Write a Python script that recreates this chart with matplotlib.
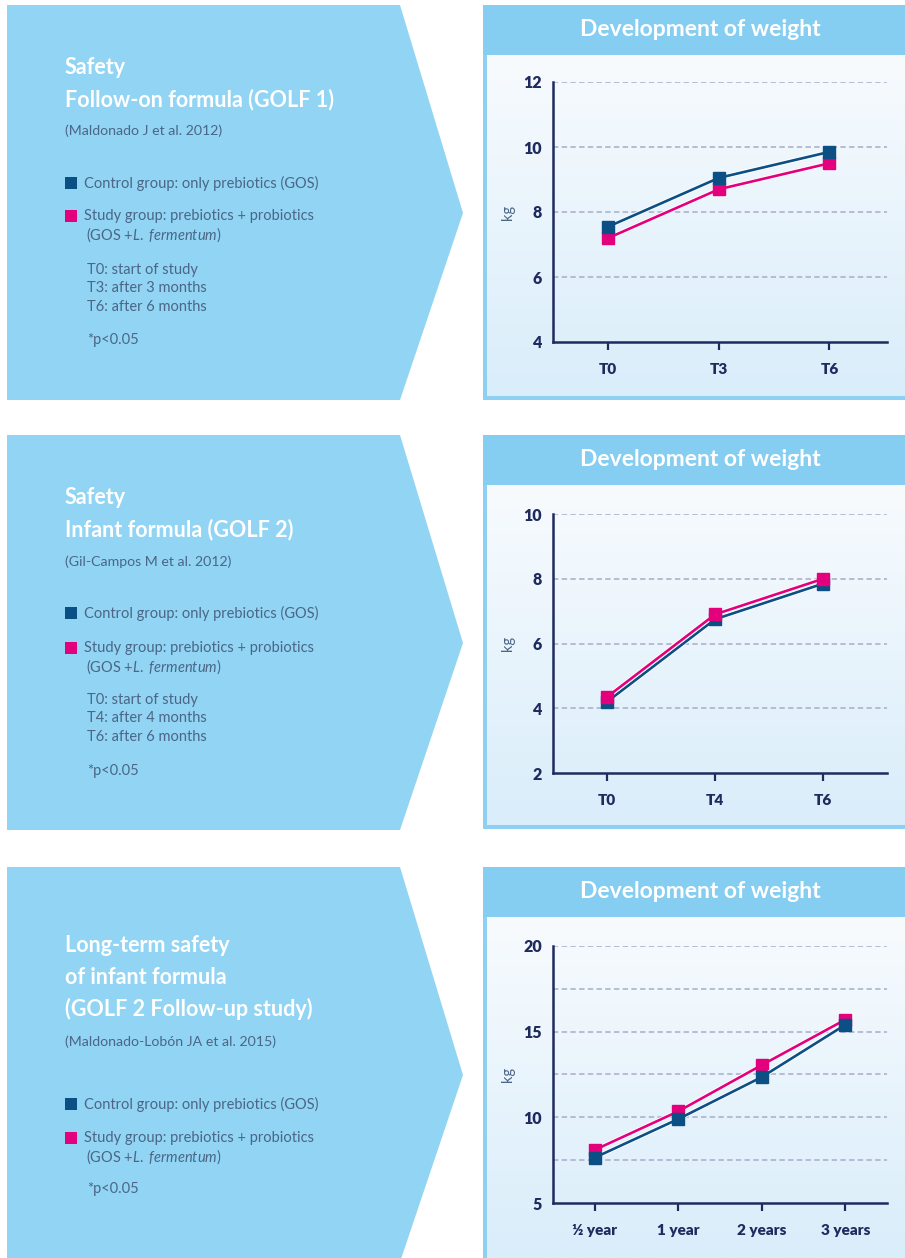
import numpy as np
import matplotlib
matplotlib.use("Agg")
import matplotlib.pyplot as plt
from matplotlib.patches import Polygon, Rectangle
from matplotlib.colors import LinearSegmentedColormap
import matplotlib.patheffects as pe

# ---------------------------------------------------------------------
# Data
# ---------------------------------------------------------------------
categories_1 = ["T0", "T3", "T6"]
control_1 = [7.55, 9.05, 9.85]
study_1 = [7.2, 8.7, 9.5]
yticks_1 = [4, 6, 8, 10, 12]
grid_1 = [6, 8, 10, 12]

categories_2 = ["T0", "T4", "T6"]
control_2 = [4.2, 6.75, 7.85]
study_2 = [4.35, 6.9, 8.0]
yticks_2 = [2, 4, 6, 8, 10]
grid_2 = [4, 6, 8, 10]

categories_3 = ["½ year", "1 year", "2 years", "3 years"]
control_3 = [7.65, 9.9, 12.35, 15.4]
study_3 = [8.1, 10.35, 13.05, 15.7]
yticks_3 = [5, 10, 15, 20]
grid_3 = [7.5, 10, 12.5, 15, 17.5, 20]

titles_1 = ["Safety", "Follow-on formula (GOLF 1)"]
titles_2 = ["Safety", "Infant formula (GOLF 2)"]
titles_3 = ["Long-term safety", "of infant formula", "(GOLF 2 Follow-up study)"]
cites = ["(Maldonado J et al. 2012)", "(Gil-Campos M et al. 2012)",
         "(Maldonado-Lobón JA et al. 2015)"]
notes_1 = ["T0: start of study", "T3: after 3 months", "T6: after 6 months"]
notes_2 = ["T0: start of study", "T4: after 4 months", "T6: after 6 months"]

control_label = "Control group: only prebiotics (GOS)"
study_label = "Study group: prebiotics + probiotics"

# ---------------------------------------------------------------------
# Style
# ---------------------------------------------------------------------
W, H = 905, 1258
ARROW = "#91d4f4"
HEADER = "#86cef1"
BORDER = "#8dd0f1"
NAVY = "#1f2a5e"
TEXT = "#4b6686"
GRID = "#a7adc9"
C_CTRL = "#0b4f84"
C_STUDY = "#e4007c"

plt.rcParams["font.family"] = ["Lato", "DejaVu Sans"]
plt.rcParams["mathtext.fontset"] = "custom"
plt.rcParams["mathtext.rm"] = "Lato"
plt.rcParams["mathtext.it"] = "Lato:italic"

fig = plt.figure(figsize=(W / 100, H / 100), dpi=100)
bg = fig.add_axes([0, 0, 1, 1])
bg.set_xlim(0, W)
bg.set_ylim(H, 0)
bg.axis("off")

body_cmap = LinearSegmentedColormap.from_list("body", ["#f8fbfe", "#d9edfa"])


def px_axes(left, top, right, bottom):
    return fig.add_axes([left / W, 1 - bottom / H, (right - left) / W, (bottom - top) / H])


def draw_left(top, titles, cite, y_cite, y_ctrl, y_study, notes, y_notes, y_p, title_y):
    # arrow-shaped info box
    poly = Polygon([(7, top), (400, top), (463, top + 208), (400, top + 395), (7, top + 395)],
                   closed=True, facecolor=ARROW, edgecolor="none", zorder=1)
    bg.add_patch(poly)
    for i, t in enumerate(titles):
        bg.text(65, title_y + i * 31.5, t, color="white", fontsize=15.5, fontweight="bold",
                va="center", ha="left", zorder=3)
    bg.text(65, y_cite, cite, color=TEXT, fontsize=10.2, va="center", zorder=3)
    bg.add_patch(Rectangle((65, y_ctrl - 6), 12, 12, facecolor=C_CTRL, zorder=3))
    bg.text(84, y_ctrl, control_label, color=TEXT, fontsize=10.5, va="center", zorder=3)
    bg.add_patch(Rectangle((65, y_study - 6), 12, 12, facecolor=C_STUDY, zorder=3))
    bg.text(84, y_study, study_label, color=TEXT, fontsize=10.5, va="center", zorder=3)
    bg.text(86, y_study + 19, r"(GOS +$\mathit{L.}$ $\mathit{fermentum}$)", color=TEXT,
            fontsize=10.5, va="center", zorder=3)
    for i, n in enumerate(notes):
        bg.text(87, y_notes + i * 18.5, n, color=TEXT, fontsize=10.5, va="center", zorder=3)
    bg.text(87, y_p, "*p<0.05", color=TEXT, fontsize=10.5, va="center", zorder=3)


def draw_right(top, bottom, header_h=50, bottom_border=True):
    hb = top + header_h
    bg.add_patch(Rectangle((483, top), W - 483, header_h, facecolor=HEADER, edgecolor="none", zorder=1))
    bg.add_patch(Rectangle((483, hb), W - 483, bottom - hb, facecolor=BORDER, edgecolor="none", zorder=1))
    grad = np.linspace(0, 1, 256).reshape(-1, 1)
    inner_bottom = bottom - 4 if bottom_border else bottom
    bg.imshow(grad, extent=(487, W, inner_bottom, hb), aspect="auto", cmap=body_cmap,
              origin="upper", zorder=2)
    bg.text(700, top + 25, "Development of weight", color="white", fontsize=16.5,
            fontweight="bold", ha="center", va="center", zorder=3)


def draw_chart(top, bottom, cats, ctrl, study, yticks, grids, xmax, study_on_top):
    ax = px_axes(553, top, 887, bottom)
    ax.set_facecolor("none")
    x = np.arange(len(cats))
    z_c, z_s = (4, 5) if study_on_top else (5, 4)
    stroke = [pe.withStroke(linewidth=3.2, foreground="white")]
    for vals, col, z in [(ctrl, C_CTRL, z_c), (study, C_STUDY, z_s)]:
        ax.plot(x, vals, color=col, lw=1.9, zorder=z, path_effects=stroke, clip_on=False)
        ax.plot(x, vals, ls="none", marker="s", ms=9, mfc=col, mec=col, zorder=z + 0.5,
                clip_on=False)
    for g in grids:
        ax.axhline(g, color=GRID, lw=1.1, ls=(0, (3.5, 2.2)), zorder=1)
    ax.set_xlim(-0.5, xmax)
    ax.set_ylim(yticks[0], yticks[-1])
    ax.set_yticks(yticks)
    ax.set_xticks(x)
    ax.set_xticklabels(cats)
    for s in ["top", "right"]:
        ax.spines[s].set_visible(False)
    for s in ["left", "bottom"]:
        ax.spines[s].set_color(NAVY)
        ax.spines[s].set_linewidth(1.8)
    ax.tick_params(axis="y", length=0, pad=8, labelsize=11.5, labelcolor=NAVY)
    ax.tick_params(axis="x", direction="out", length=6, width=1.6, color=NAVY, pad=9,
                   labelsize=11, labelcolor=NAVY)
    for lab in ax.get_xticklabels() + ax.get_yticklabels():
        lab.set_fontweight("heavy")
    ax.set_ylabel("kg", color=TEXT, fontsize=10.5)
    ax.yaxis.set_label_coords(-0.115, 0.5)
    return ax


# ---------------------------------------------------------------------
# Panel 1
# ---------------------------------------------------------------------
draw_left(5, titles_1, cites[0], 131, 183, 216, notes_1, 270, 340, title_y=68)
draw_right(5, 400)
draw_chart(82, 342, categories_1, control_1, study_1, yticks_1, grid_1, 2.52, False)

# ---------------------------------------------------------------------
# Panel 2
# ---------------------------------------------------------------------
draw_left(435, titles_2, cites[1], 562, 613, 648, notes_2, 700, 771, title_y=498)
draw_right(435, 829)
draw_chart(514, 773, categories_2, control_2, study_2, yticks_2, grid_2, 2.59, True)

# ---------------------------------------------------------------------
# Panel 3
# ---------------------------------------------------------------------
draw_left(867, titles_3, cites[2], 1042, 1104, 1138, [], 0, 1189, title_y=946)
draw_right(867, H, bottom_border=False)
draw_chart(946, 1203, categories_3, control_3, study_3, yticks_3, grid_3, 3.5, False)

bg.set_xlim(0, W)
bg.set_ylim(H, 0)

fig.savefig("out.png", dpi=100)
